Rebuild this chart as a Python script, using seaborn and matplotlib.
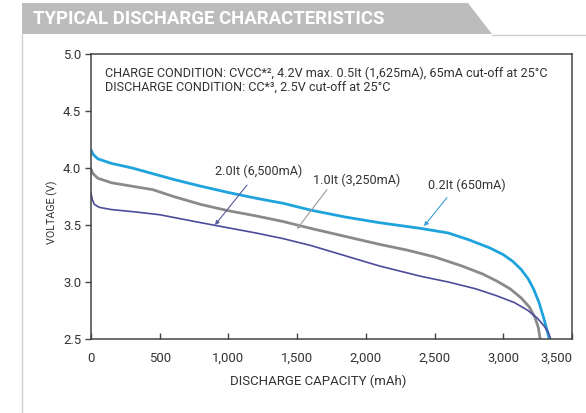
import matplotlib
matplotlib.use("Agg")
import numpy as np
import pandas as pd
import seaborn as sns
import matplotlib.pyplot as plt
from matplotlib import font_manager
from matplotlib.patches import Polygon
from matplotlib.lines import Line2D

# ---------------- data ----------------
cap_02 = [0, 15, 50, 150, 300, 450, 600, 800, 1000, 1200, 1400, 1600, 1850, 2100,
          2400, 2600, 2750, 2900, 3000, 3070, 3130, 3180, 3220, 3260, 3295, 3320, 3335]
volt_02 = [4.16, 4.12, 4.08, 4.04, 4.00, 3.95, 3.90, 3.84, 3.785, 3.735, 3.69, 3.63, 3.57, 3.52,
           3.47, 3.43, 3.37, 3.30, 3.24, 3.18, 3.11, 3.03, 2.94, 2.82, 2.68, 2.57, 2.50]

cap_10 = [0, 15, 50, 150, 300, 450, 600, 800, 1000, 1200, 1400, 1600, 1850, 2100,
          2300, 2500, 2700, 2850, 2950, 3050, 3130, 3190, 3230, 3255, 3268]
volt_10 = [3.99, 3.95, 3.91, 3.87, 3.84, 3.81, 3.75, 3.68, 3.625, 3.58, 3.53, 3.47, 3.40, 3.33,
           3.28, 3.22, 3.14, 3.07, 3.01, 2.94, 2.86, 2.78, 2.69, 2.60, 2.50]

cap_20 = [0, 10, 25, 60, 150, 320, 500, 650, 800, 1000, 1200, 1400, 1600, 1850, 2100,
          2400, 2600, 2800, 2950, 3080, 3180, 3250, 3300, 3330, 3345]
volt_20 = [3.78, 3.72, 3.68, 3.655, 3.635, 3.615, 3.59, 3.555, 3.52, 3.475, 3.43, 3.38, 3.32, 3.23, 3.14,
           3.05, 3.00, 2.94, 2.88, 2.82, 2.75, 2.68, 2.61, 2.55, 2.50]

series_names = ["0.2It (650mA)", "1.0It (3,250mA)", "2.0It (6,500mA)"]

x_ticks = [0, 500, 1000, 1500, 2000, 2500, 3000, 3500]
x_tick_labels = ["0", "500", "1,000", "1,500", "2,000", "2,500", "3,000", "3,500"]
y_ticks = [2.5, 3.0, 3.5, 4.0, 4.5, 5.0]
y_tick_labels = ["2.5", "3.0", "3.5", "4.0", "4.5", "5.0"]

title_text = "TYPICAL DISCHARGE CHARACTERISTICS"
cond_line1 = "CHARGE CONDITION: CVCC*\u00b2, 4.2V max. 0.5It (1,625mA), 65mA cut-off at 25\u00b0C"
cond_line2 = "DISCHARGE CONDITION: CC*\u00b3, 2.5V cut-off at 25\u00b0C"
x_label = "DISCHARGE CAPACITY (mAh)"
y_label = "VOLTAGE (V)"

# annotation anchor points (label centre, arrow tail, arrow tip) in data units
ann_label_pos = [(2736, 3.85), (1936, 3.895), (1222, 3.974)]
ann_tail = [(2590, 3.74), (1717, 3.81), (1135, 3.85)]
ann_tip = [(2423, 3.49), (1499, 3.465), (902, 3.50)]

# ---------------- style ----------------
sns.set_theme(style="white")
available = {f.name for f in font_manager.fontManager.ttflist}
if "Liberation Sans Narrow" in available:
    main_font = "Liberation Sans Narrow"
elif "Roboto" in available:
    main_font = "Roboto"
else:
    main_font = "DejaVu Sans"
plt.rcParams["font.family"] = [main_font, "DejaVu Sans"]

W, H = 586, 413
fig = plt.figure(figsize=(W / 100, H / 100), dpi=100)
fig.patch.set_facecolor("white")
ax = fig.add_axes([91 / W, 1 - 339 / H, 481 / W, 285 / H])

renderer = fig.canvas.get_renderer()


def fit(t, target_w):
    w = t.get_window_extent(renderer).width
    t.set_fontsize(t.get_fontsize() * target_w / w)
    return t.get_fontsize()


colors = ["#1ea3dc", "#8a8a8a", "#4e4c9a"]
widths = [2.0, 2.0, 1.2]
arrow_colors = ["#3a9fd6", "#9a9a9a", "#5a5a9e"]

frames = []
for name, c, v in zip(series_names, [cap_02, cap_10, cap_20], [volt_02, volt_10, volt_20]):
    frames.append(pd.DataFrame({"cap": c, "volt": v, "rate": name}))
df = pd.concat(frames, ignore_index=True)

for name, col, lw in zip(series_names, colors, widths):
    sns.lineplot(data=df[df["rate"] == name], x="cap", y="volt", color=col, lw=lw,
                 estimator=None, sort=False, ax=ax, legend=False)

ax.set_xlim(0, 3500)
ax.set_ylim(2.5, 5.0)

# tick font size fitted to reference
tmp = fig.text(0, 0, "1,000", fontsize=10)
tick_fs = fit(tmp, 32)
tmp.remove()

ax.set_xticks(x_ticks, x_tick_labels)
ax.set_yticks(y_ticks, y_tick_labels)
ax.tick_params(axis="x", direction="in", length=4, width=1, color="#444444",
               labelsize=tick_fs, labelcolor="#333333", pad=9, bottom=True)
ax.tick_params(axis="y", direction="out", length=4, width=1, color="#444444",
               labelsize=tick_fs, labelcolor="#333333", pad=3, left=True)
ax.get_xticklabels()[-1].set_horizontalalignment("right")
for s in ax.spines.values():
    s.set_visible(True)
    s.set_color("#444444")
    s.set_linewidth(1.1)

xl = ax.set_xlabel(x_label, color="#333333", fontsize=10)
fit(xl, 176)
ax.xaxis.set_label_coords((318 - 91) / 481, (339 - 375) / 285)
yl = ax.set_ylabel(y_label, color="#333333", fontsize=10)
h = yl.get_window_extent(renderer).height
yl.set_fontsize(10 * 64 / h)
ax.yaxis.set_label_coords((58 - 91) / 481, (339 - 212) / 285)

# condition text
c1 = ax.text(0.029, 0.933, cond_line1, transform=ax.transAxes, va="center", ha="left",
             color="#333333", fontsize=8)
cfs = fit(c1, 445)
ax.text(0.029, 0.880, cond_line2, transform=ax.transAxes, va="center", ha="left",
        color="#333333", fontsize=cfs)

# annotations
t0 = ax.text(*ann_label_pos[2], series_names[2], ha="center", va="center", color="#333333", fontsize=9)
afs = fit(t0, 88)
for i in range(2):
    ax.text(*ann_label_pos[i], series_names[i], ha="center", va="center",
            color="#333333", fontsize=afs)
for i in range(3):
    ax.annotate("", xy=ann_tip[i], xytext=ann_tail[i],
                arrowprops=dict(arrowstyle="-|>", color=arrow_colors[i], lw=0.8,
                                mutation_scale=6, shrinkA=0, shrinkB=0))


# header band
def px(x, y):
    return (x / W, 1 - y / H)


band = Polygon([px(22, 3), px(468, 3), px(492, 34), px(22, 34)], closed=True,
               transform=fig.transFigure, facecolor="#bcbcbc", edgecolor="none")
fig.patches.append(band)
fig.lines.append(Line2D([492 / W, 1], [1 - 34.5 / H] * 2, transform=fig.transFigure,
                        color="#cccccc", lw=1))
fig.lines.append(Line2D([21.5 / W] * 2, [1 - 34 / H, 0], transform=fig.transFigure,
                        color="#d0d0d0", lw=1))
tt = fig.text(33 / W, 1 - 19 / H, title_text, color="white", fontweight="bold",
              ha="left", va="center", fontsize=12)
fit(tt, 352)

fig.savefig("out.png", dpi=100)
